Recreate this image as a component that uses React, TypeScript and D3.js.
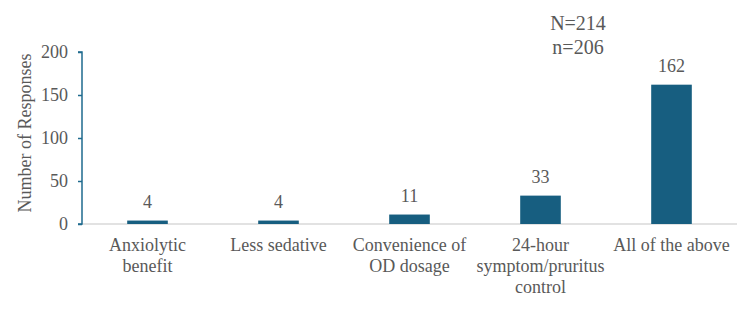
import React, { useRef, useEffect } from 'react';
import * as d3 from 'd3';

// benefit categories (lines split for wrapping) and response counts
const categories = [
  ['Anxiolytic', 'benefit'],
  ['Less sedative'],
  ['Convenience of', 'OD dosage'],
  ['24-hour', 'symptom/pruritus', 'control'],
  ['All of the above'],
];
const responses = [4, 4, 11, 33, 162];
const yTicks = [0, 50, 100, 150, 200];
const notes = ['N=214', 'n=206'];

const FONT = 'Liberation Serif, DejaVu Serif, serif';

const App = () => {
  const ref = useRef<HTMLDivElement>(null);

  useEffect(() => {
    const width = 750;
    const height = 320;
    const margin = { top: 52, right: 13, bottom: 96, left: 82 };
    const innerW = width - margin.left - margin.right;
    const innerH = height - margin.top - margin.bottom;
    const textColor = '#595959';
    const barColor = '#175e80';

    const root = d3.select(ref.current);
    root.selectAll('*').remove();
    const svg = root
      .append('svg')
      .attr('width', width)
      .attr('height', height)
      .attr('font-family', FONT)
      .style('display', 'block');

    // chart frame
    svg.append('rect')
      .attr('x', 0.5).attr('y', 0.5)
      .attr('width', width - 1).attr('height', height - 1)
      .attr('rx', 4)
      .attr('fill', '#fff')
      .attr('stroke', '#d9d9d9');

    const g = svg.append('g').attr('transform', `translate(${margin.left},${margin.top})`);

    const x = d3.scaleBand<number>()
      .domain(d3.range(responses.length))
      .range([0, innerW])
      .paddingInner(0.69)
      .paddingOuter(0.345);
    const y = d3.scaleLinear().domain([0, 200]).range([innerH, 0]);

    // baseline
    g.append('line')
      .attr('x1', 0).attr('x2', innerW)
      .attr('y1', innerH).attr('y2', innerH)
      .attr('stroke', '#d9d9d9').attr('stroke-width', 1.5);

    // y axis
    const yAxis = g.append('g')
      .call(d3.axisLeft(y).tickValues(yTicks).tickSize(4).tickPadding(10))
      .attr('font-family', FONT)
      .attr('font-size', 18);
    yAxis.select('.domain').attr('stroke', '#1f6b8e').attr('stroke-width', 1.5).attr('d', `M-4,0H0V${innerH}H-4`);
    yAxis.selectAll('.tick line').attr('stroke', '#1f6b8e').attr('stroke-width', 1.5);
    yAxis.selectAll('.tick text').attr('fill', textColor);

    // bars
    g.selectAll('rect.bar')
      .data(responses)
      .join('rect')
      .attr('class', 'bar')
      .attr('x', (_, i) => x(i)!)
      .attr('width', x.bandwidth())
      .attr('y', d => y(d))
      .attr('height', d => innerH - y(d))
      .attr('fill', barColor);

    // value labels
    g.selectAll('text.val')
      .data(responses)
      .join('text')
      .attr('class', 'val')
      .attr('x', (_, i) => x(i)! + x.bandwidth() / 2)
      .attr('y', d => y(d) - 13)
      .attr('text-anchor', 'middle')
      .attr('fill', textColor)
      .attr('font-size', 18)
      .text(d => d);

    // category labels
    const cat = g.selectAll('text.cat')
      .data(categories)
      .join('text')
      .attr('class', 'cat')
      .attr('text-anchor', 'middle')
      .attr('fill', textColor)
      .attr('font-size', 18);
    cat.selectAll('tspan')
      .data((d, i) => d.map(line => ({ line, i })))
      .join('tspan')
      .attr('x', d => x(d.i)! + x.bandwidth() / 2)
      .attr('y', (_, j) => innerH + 27 + j * 21)
      .text(d => d.line);

    // sample size notes
    svg.selectAll('text.note')
      .data(notes)
      .join('text')
      .attr('class', 'note')
      .attr('x', 578)
      .attr('y', (_, i) => 30 + i * 24)
      .attr('text-anchor', 'middle')
      .attr('fill', textColor)
      .attr('font-size', 20)
      .text(d => d);

    // y axis title
    svg.append('text')
      .attr('transform', `translate(25,133) rotate(-90)`)
      .attr('text-anchor', 'middle')
      .attr('dominant-baseline', 'central')
      .attr('fill', textColor)
      .attr('font-size', 18)
      .text('Number of Responses');
  }, []);

  return <div ref={ref} style={{ margin: -8 }} />;
};

export default App;
